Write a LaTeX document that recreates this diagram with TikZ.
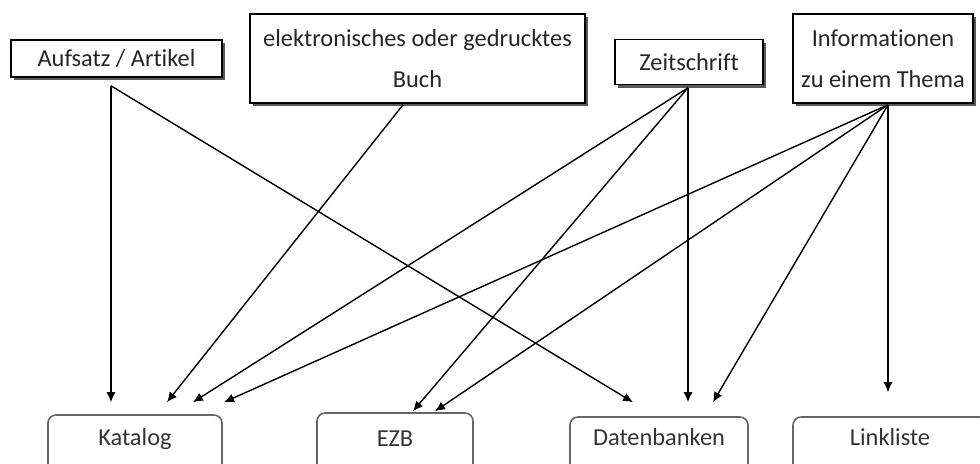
\documentclass[tikz,border=0pt]{standalone}
\usepackage{fontspec}
\setmainfont{Carlito}[Ligatures=NoCommon]
\usetikzlibrary{arrows.meta,shadows,calc}

\tikzset{
    source/.style={draw, line width=0.8pt, fill=white, inner sep=0pt, text=black!85,
        font=\fontsize{12.2}{20.5}\selectfont, align=center,
        drop shadow={shadow xshift=1.5pt, shadow yshift=-1.5pt, fill=black!65, opacity=1}},
    target/.style={draw=black!60, line width=0.8pt, rounded corners=4pt, inner xsep=0pt,
        inner ysep=0pt, anchor=base, text depth=20pt, text=black!80,
        font=\fontsize{12.2}{14}\selectfont},
    link/.style={line width=0.7pt, -{Latex[length=5pt, width=4.5pt]}}
}

\begin{document}
\begin{tikzpicture}[x=0.5pt, y=-0.5pt]
    \path[use as bounding box, clip] (0, 0) rectangle (980, 463);

    % Ausgangspunkte
    \node[source, minimum width=105.5pt, minimum height=18.5pt] (auf) at (116.5, 58.5) {Aufsatz / Artikel};
    \node[source, minimum width=167.5pt, minimum height=44.5pt] (buch) at (417.5, 58.5) {elektronisches oder gedrucktes\\Buch};
    \node[source, minimum width=74pt, minimum height=22.5pt] (zeit) at (689, 62) {Zeitschrift};
    \node[source, minimum width=90pt, minimum height=44.5pt] (info) at (883, 58.5) {Informationen\\zu einem Thema};

    % Rechercheinstrumente
    \node[target, minimum width=87pt, text height=15pt] (kat) at (135, 445) {Katalog};
    \node[target, minimum width=78pt, text height=16.5pt] (ezb) at (395, 446) {EZB};
    \node[target, minimum width=89pt, text height=14pt] (dat) at (659, 445) {Datenbanken};
    \node[target, minimum width=97pt, text height=14pt] (link) at (890, 445) {Linkliste};

    \coordinate (aufOut) at ($(auf.south)+(-5.5, 8)$);
    \coordinate (buchOut) at ($(buch.south)+(-14.5, 1)$);
    \coordinate (zeitOut) at ($(zeit.south)+(-1, 2.5)$);
    \coordinate (infoOut) at ($(info.south)+(5, 1)$);

    % Pfeile
    \draw[link] (aufOut) -- ($(kat.north)+(-24, -12)$);
    \draw[link] (aufOut) -- ($(dat.north)+(-26, -14)$);
    \draw[link] (buchOut) -- ($(kat.north)+(32, -12)$);
    \draw[link] (zeitOut) -- ($(kat.north)+(58, -12)$);
    \draw[link] (zeitOut) -- ($(ezb.north)+(18, -1)$);
    \draw[link] (zeitOut) -- ($(dat.north)+(29, -14)$);
    \draw[link] (infoOut) -- ($(kat.north)+(89, -12)$);
    \draw[link] (infoOut) -- ($(ezb.north)+(40, -1)$);
    \draw[link] (infoOut) -- ($(dat.north)+(54, -14)$);
    \draw[link] (infoOut) -- ($(link.north)+(-2, -24)$);
\end{tikzpicture}
\end{document}
